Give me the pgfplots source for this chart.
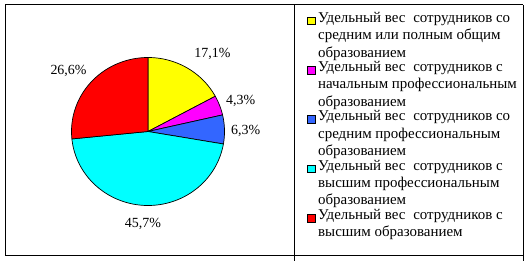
\documentclass[border=0pt]{standalone}
\usepackage{pgfplots}
\pgfplotsset{compat=1.18}
\usepackage{fontspec}
\setmainfont{Liberation Serif}
\definecolor{pyellow}{HTML}{FFFF00}
\definecolor{pmagenta}{HTML}{FF00FF}
\definecolor{pblue}{HTML}{3366FF}
\definecolor{pcyan}{HTML}{00FFFF}
\definecolor{pred}{HTML}{FF0000}
\newcommand\fs{\rule{0pt}{12.25bp}}
\newcommand\ls{\rule[-5.25bp]{0pt}{5.25bp}}
\begin{document}
\begin{tikzpicture}[x=1bp,y=1bp]
\useasboundingbox (0,0) rectangle (528,261);
\draw[line width=1bp] (5,256) -- (523.3,256);
\draw[line width=1bp] (5,6) -- (523.3,6);
\draw[line width=1bp] (5,256) -- (5,6);
\draw[line width=1bp] (294.5,256) -- (294.5,0);
\draw[line width=1bp] (523.3,256) -- (523.3,0);
\begin{axis}[
  at={(148bp,129.5bp)}, anchor=center,
  x=76.5bp, y=74bp,
  xmin=-1, xmax=1, ymin=-1, ymax=1,
  hide axis, clip=false,
  samples=80,
  every axis plot/.append style={draw=black, line width=0.7bp},
  legend style={
    at={(axis description cs:1.5392,1.323)}, anchor=north west,
    draw=none, fill=none, inner sep=0pt, outer sep=0pt,
    row sep=0.3bp, column sep=3bp,
    font=\fontsize{15}{17.5}\selectfont,
    nodes={inner sep=0pt, outer sep=0pt},
    cells={anchor=north west, align=left},
  },
  legend image code/.code={\path (0bp,0bp); \draw[#1,draw=black,line width=0.6bp] (0bp,-14.7bp) rectangle (7.5bp,-7.2bp);},
]
\addplot[fill=pyellow, domain=90-3.6*(17.1):90] ({cos(x)},{sin(x)}) -- (axis cs:0,0) -- cycle;
\addlegendentry{\fs Удельный вес\hspace{4bp} сотрудников со\\средним или полным общим\\образованием\ls}
\addplot[fill=pmagenta, domain=90-3.6*(17.1+4.3):90-3.6*(17.1)] ({cos(x)},{sin(x)}) -- (axis cs:0,0) -- cycle;
\addlegendentry{\fs Удельный вес\hspace{4bp} сотрудников с\\начальным профессиональным\\образованием\ls}
\addplot[fill=pblue, domain=90-3.6*(17.1+4.3+6.3):90-3.6*(17.1+4.3)] ({cos(x)},{sin(x)}) -- (axis cs:0,0) -- cycle;
\addlegendentry{\fs Удельный вес\hspace{4bp} сотрудников со\\средним профессиональным\\образованием\ls}
\addplot[fill=pcyan, domain=90-3.6*(17.1+4.3+6.3+45.7):90-3.6*(17.1+4.3+6.3)] ({cos(x)},{sin(x)}) -- (axis cs:0,0) -- cycle;
\addlegendentry{\fs Удельный вес\hspace{4bp} сотрудников с\\высшим профессиональным\\образованием\ls}
\addplot[fill=pred, domain=90-3.6*(17.1+4.3+6.3+45.7+26.6):90-3.6*(17.1+4.3+6.3+45.7)] ({cos(x)},{sin(x)}) -- (axis cs:0,0) -- cycle;
\addlegendentry{\fs Удельный вес\hspace{4bp} сотрудников с\\высшим образованием\ls}
\begin{scope}[font=\fontsize{14}{16}\selectfont]
\node at (axis cs:0.842,1.054) {17,1\%};
\node at (axis cs:1.211,0.419) {4,3\%};
\node at (axis cs:1.276,0.0135) {6,3\%};
\node at (axis cs:-0.066,-1.243) {45,7\%};
\node at (axis cs:-1.039,0.824) {26,6\%};
\end{scope}
\end{axis}
\end{tikzpicture}
\end{document}
